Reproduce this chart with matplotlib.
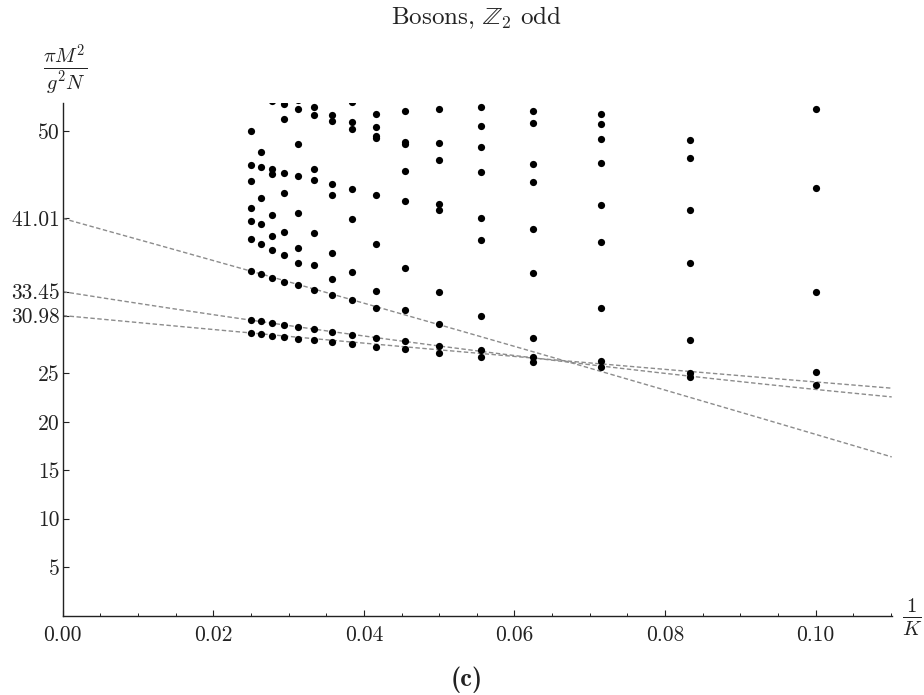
import numpy as np
import matplotlib
matplotlib.use("Agg")
import matplotlib.pyplot as plt
from matplotlib.ticker import FixedLocator, FixedFormatter, MultipleLocator

plt.rcParams['font.family'] = 'serif'
plt.rcParams['font.serif'] = ['cmr10']
plt.rcParams['mathtext.fontset'] = 'cm'
plt.rcParams['axes.unicode_minus'] = False

# ---- data: pi M^2 / (g^2 N) spectrum for each resolution K ----
K_values = [10, 12, 14, 16, 18, 20, 22, 24, 26, 28, 30, 32, 34, 36, 38, 40]
m2_K10 = [52.36, 44.16, 33.39, 25.15, 23.84]
m2_K12 = [49.09, 47.23, 41.86, 36.38, 28.46, 25.08, 24.61]
m2_K14 = [51.84, 50.77, 49.19, 46.75, 42.44, 38.62, 31.77, 26.29, 25.70]
m2_K16 = [52.15, 50.85, 46.64, 44.81, 39.96, 35.35, 28.70, 26.74, 26.22]
m2_K18 = [52.50, 50.57, 48.37, 45.85, 41.10, 38.82, 30.97, 27.43, 26.74]
m2_K20 = [52.33, 48.78, 47.02, 42.54, 41.92, 33.39, 30.11, 27.84, 27.15]
m2_K22 = [52.09, 48.95, 48.68, 45.92, 42.82, 35.87, 31.56, 28.33, 27.50]
m2_K24 = [51.78, 50.47, 49.50, 49.30, 43.47, 38.38, 33.55, 31.77, 28.67, 27.77]
m2_K26 = [53.00, 50.98, 50.26, 44.03, 40.93, 35.50, 32.63, 28.98, 28.05]
m2_K28 = [51.70, 51.08, 44.55, 43.47, 37.48, 34.76, 33.14, 29.29, 28.25]
m2_K30 = [52.56, 51.67, 46.13, 44.96, 39.52, 36.16, 33.63, 29.57, 28.43]
m2_K32 = [53.20, 52.33, 48.68, 45.37, 41.58, 37.93, 36.40, 34.11, 29.80, 28.60]
m2_K34 = [52.84, 51.26, 45.71, 43.65, 39.58, 37.24, 34.48, 30.01, 28.77]
m2_K36 = [53.15, 46.13, 45.64, 41.37, 39.17, 37.79, 34.90, 30.22, 28.90]
m2_K38 = [47.85, 46.33, 43.16, 40.48, 38.38, 35.30, 30.42, 29.11]
m2_K40 = [50.02, 46.57, 44.92, 42.06, 40.79, 38.86, 35.55, 30.56, 29.18]

# extrapolation fits  a + b x + c x^2  (x = 1/K)
fit_intercepts = [41.01, 33.45, 30.98]
fit_linear = [-216.0, -123.6, -73.1]
fit_quadratic = [-70.0, 225.6, 45.0]

x_ticks = [0.00, 0.02, 0.04, 0.06, 0.08, 0.10]
x_tick_labels = ['0.00', '0.02', '0.04', '0.06', '0.08', '0.10']
y_ticks = [5, 10, 15, 20, 25, 30.98, 33.45, 41.01, 50]
y_tick_labels = ['5', '10', '15', '20', '25', '30.98', '33.45', '41.01', '50']

spectra = [m2_K10, m2_K12, m2_K14, m2_K16, m2_K18, m2_K20, m2_K22, m2_K24,
           m2_K26, m2_K28, m2_K30, m2_K32, m2_K34, m2_K36, m2_K38, m2_K40]

W, H = 924, 695
fig = plt.figure(figsize=(W / 100, H / 100), dpi=100)
ax = fig.add_axes([62.7 / W, 1 - 615.5 / H, (891.7 - 62.7) / W, (615.5 - 103.3) / H])

x_max = 0.1101
ax.set_xlim(0, x_max)
ax.set_ylim(0, 52.9)

xs = np.linspace(0, x_max, 200)
for a, b, c in zip(fit_intercepts, fit_linear, fit_quadratic):
    ax.plot(xs, a + b * xs + c * xs ** 2, color='#8c8c8c', lw=1.0,
            dashes=(3.2, 1.8), zorder=2)

for K, vals in zip(K_values, spectra):
    ax.plot([1.0 / K] * len(vals), vals, 'o', color='black', ms=5.2,
            mec='black', mew=0, zorder=3)

for s in ['top', 'right']:
    ax.spines[s].set_visible(False)
for s in ['left', 'bottom']:
    ax.spines[s].set_linewidth(1.0)
    ax.spines[s].set_color('#222222')

ax.xaxis.set_major_locator(FixedLocator(x_ticks))
ax.xaxis.set_major_formatter(FixedFormatter(x_tick_labels))
ax.xaxis.set_minor_locator(MultipleLocator(0.005))
ax.yaxis.set_major_locator(FixedLocator(y_ticks))
ax.yaxis.set_major_formatter(FixedFormatter(y_tick_labels))

ax.tick_params(axis='x', which='major', direction='in', length=4, width=0.8,
               labelsize=15.5, pad=7, colors='#222222')
ax.tick_params(axis='x', which='minor', direction='in', length=2.2, width=0.7,
               colors='#222222')
ax.tick_params(axis='y', which='major', direction='in', length=4, width=0.8,
               labelsize=15.5, pad=2, colors='#222222')

fig.text(476 / W, 1 - 18 / H, r'Bosons, $\mathbb{Z}_2$ odd', ha='center',
         va='center', fontsize=18, color='#222222')
fig.text(87 / W, 1 - 70 / H, r'$\frac{\pi M^2}{g^2 N}$', ha='right',
         va='center', fontsize=21, color='#222222')
fig.text(912 / W, 1 - 617 / H, r'$\frac{1}{K}$', ha='center', va='center',
         fontsize=21, color='#222222')
fig.text(467 / W, 1 - 680 / H, '(c)', ha='center', va='center',
         fontsize=19, family='cmb10', color='#222222')

fig.savefig('out.png', dpi=100)
